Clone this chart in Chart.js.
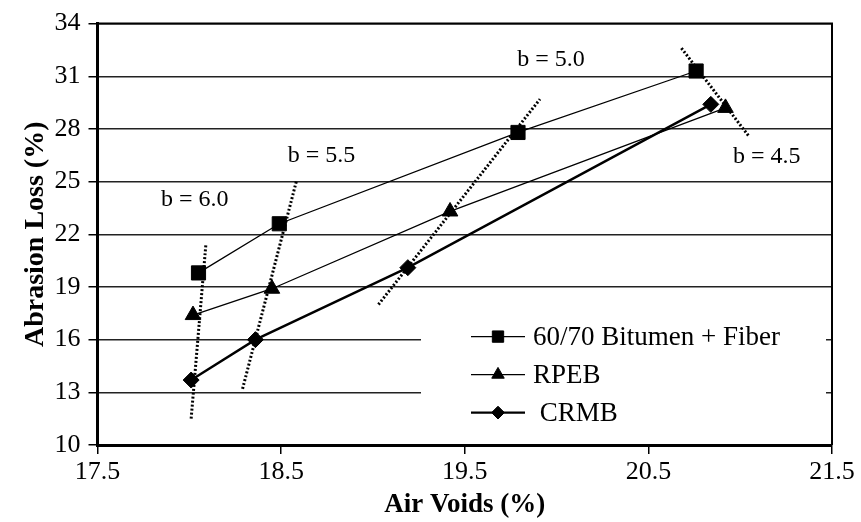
<!DOCTYPE html>
<html>
<head>
<meta charset="utf-8">
<title>Abrasion Loss vs Air Voids</title>
<script src="https://cdn.jsdelivr.net/npm/chart.js@4.4.1/dist/chart.umd.min.js"></script>
<style>
  html, body { margin: 0; padding: 0; background: #fff; }
  #wrap { width: 861px; height: 522px; }
</style>
</head>
<body>
<div id="wrap"><canvas id="abrasionChart"></canvas></div>
<script>
// Values
const seriesNames = ['60/70 Bitumen + Fiber', 'RPEB', ' CRMB'];
const fiberVoids = [18.05, 18.49, 19.79, 20.76];
const fiberLoss = [19.8, 22.6, 27.8, 31.3];
const rpebVoids = [18.02, 18.45, 19.42, 20.92];
const rpebLoss = [17.4, 18.9, 23.3, 29.2];
const crmbVoids = [18.01, 18.36, 19.19, 20.84];
const crmbLoss = [13.7, 16.0, 20.1, 29.4];

// Bitumen content lines (b)
const bNames = ['b = 6.0', 'b = 5.5', 'b = 5.0', 'b = 4.5'];
const bVoids = [[18.01, 18.09], [18.29, 18.585], [19.03, 19.91], [20.68, 21.05]];
const bLoss = [[11.5, 21.4], [13.2, 25.1], [18.0, 29.7], [32.6, 27.55]];
const bLabelVoids = [18.03, 18.72, 19.97, 21.145];
const bLabelLoss = [23.95, 26.47, 31.93, 26.43];

const xTicks = [17.5, 18.5, 19.5, 20.5, 21.5];
const yTicks = [10, 13, 16, 19, 22, 25, 28, 31, 34];

const serif = "'Liberation Serif', 'Times New Roman', serif";
const toPoints = (xs, ys) => xs.map((x, i) => ({ x: x, y: ys[i] }));

const seriesStyle = [
  { style: 'rect', radius: 10, width: 1.3 },
  { style: 'triangle', radius: 9, width: 1.3 },
  { style: 'rectRot', radius: 8, width: 2.4 }
];
const seriesData = [toPoints(fiberVoids, fiberLoss), toPoints(rpebVoids, rpebLoss), toPoints(crmbVoids, crmbLoss)];

const datasets = seriesData.map((pts, i) => ({
  label: seriesNames[i],
  data: pts,
  showLine: true,
  borderColor: '#000',
  backgroundColor: '#000',
  borderWidth: seriesStyle[i].width,
  pointStyle: seriesStyle[i].style,
  pointRadius: seriesStyle[i].radius,
  pointBackgroundColor: '#000',
  pointBorderColor: '#000',
  pointBorderWidth: 1,
  order: 0
}));

bNames.forEach((name, i) => {
  datasets.push({
    label: name,
    data: toPoints(bVoids[i], bLoss[i]),
    showLine: true,
    borderColor: '#000',
    borderWidth: 3,
    borderDash: [2, 2],
    pointRadius: 0,
    order: 1
  });
});

// top and right frame
const frame = {
  id: 'frame',
  beforeDatasetsDraw(chart) {
    const a = chart.chartArea, ctx = chart.ctx;
    ctx.save();
    ctx.strokeStyle = '#000';
    ctx.lineWidth = 2;
    ctx.beginPath();
    ctx.moveTo(a.left, a.top);
    ctx.lineTo(a.right, a.top);
    ctx.lineTo(a.right, a.bottom);
    ctx.stroke();
    ctx.restore();
  }
};

// legend drawn inside the plot on a white box
const boxLegend = {
  id: 'boxLegend',
  beforeDatasetsDraw(chart, args, o) {
    const a = chart.chartArea, ctx = chart.ctx;
    ctx.save();
    ctx.fillStyle = '#fff';
    ctx.fillRect(a.left + o.left, a.top + o.top, a.right - o.right - a.left - o.left, o.height);
    ctx.restore();
  },
  afterDatasetsDraw(chart, args, o) {
    const a = chart.chartArea, ctx = chart.ctx;
    ctx.save();
    ctx.font = o.fontSize + 'px ' + serif;
    ctx.textBaseline = 'middle';
    ctx.textAlign = 'left';
    chart.data.datasets.slice(0, 3).forEach((ds, i) => {
      const y = a.top + o.firstRow + i * o.rowGap;
      const x0 = a.left + o.sampleLeft;
      ctx.strokeStyle = '#000';
      ctx.fillStyle = '#000';
      ctx.lineWidth = ds.borderWidth;
      ctx.beginPath();
      ctx.moveTo(x0, y);
      ctx.lineTo(x0 + o.sampleWidth, y);
      ctx.stroke();
      ctx.lineWidth = 1;
      Chart.helpers.drawPoint(ctx, { pointStyle: ds.pointStyle, radius: ds.pointRadius * 0.8, borderWidth: 1, rotation: 0 }, x0 + o.sampleWidth / 2, y);
      ctx.fillText(ds.label, x0 + o.sampleWidth + o.textGap, y + 1);
    });
    ctx.restore();
  }
};

// b = ... annotations
const bLabels = {
  id: 'bLabels',
  afterDatasetsDraw(chart) {
    const ctx = chart.ctx, xs = chart.scales.x, ys = chart.scales.y;
    ctx.save();
    ctx.font = '24px ' + serif;
    ctx.fillStyle = '#000';
    ctx.textAlign = 'center';
    ctx.textBaseline = 'middle';
    bNames.forEach((name, i) => {
      ctx.fillText(name, xs.getPixelForValue(bLabelVoids[i]), ys.getPixelForValue(bLabelLoss[i]));
    });
    ctx.restore();
  }
};

const ctx = document.getElementById('abrasionChart').getContext('2d');
const abrasionChart = new Chart(ctx, {
  type: 'scatter',
  data: { datasets: datasets },
  plugins: [frame, boxLegend, bLabels],
  options: {
    responsive: true,
    maintainAspectRatio: false,
    animation: false,
    layout: { padding: { top: 20, right: 29, bottom: 0, left: 0 } },
    plugins: {
      legend: { display: false },
      tooltip: { enabled: false },
      boxLegend: {
        left: 323.5, right: 6, top: 280, height: 132,
        firstRow: 313, rowGap: 38,
        sampleLeft: 373.5, sampleWidth: 54, textGap: 8, fontSize: 27
      }
    },
    scales: {
      x: {
        type: 'linear',
        min: 17.5,
        max: 21.5,
        afterBuildTicks: s => { s.ticks = xTicks.map(v => ({ value: v })); },
        afterFit: s => { s.height = 77; },
        grid: { drawOnChartArea: false, drawTicks: true, tickLength: 9, color: '#000', lineWidth: 1.5 },
        border: { color: '#000', width: 3 },
        ticks: { color: '#000', padding: 3, font: { family: serif, size: 26 }, callback: v => v.toFixed(1) },
        title: { display: true, text: 'Air Voids (%)', color: '#000', padding: { top: 0, bottom: 1 }, font: { family: serif, size: 27, weight: 'bold' } }
      },
      y: {
        type: 'linear',
        min: 10,
        max: 34,
        afterBuildTicks: s => { s.ticks = yTicks.map(v => ({ value: v })); },
        afterFit: s => { s.width = 97.5; },
        grid: { color: '#222', lineWidth: 1.5, drawTicks: true, tickLength: 9, tickColor: '#000' },
        border: { color: '#000', width: 3 },
        ticks: { color: '#000', padding: 8, font: { family: serif, size: 26 } },
        title: { display: true, text: 'Abrasion Loss (%)', color: '#000', padding: { top: 19, bottom: 0 }, font: { family: serif, size: 28, weight: 'bold' } }
      }
    }
  }
});
</script>
</body>
</html>
